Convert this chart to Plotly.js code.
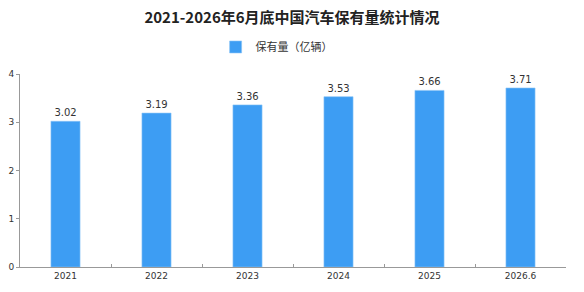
<!DOCTYPE html>
<html>
<head>
<meta charset="utf-8">
<script src="https://cdn.plot.ly/plotly-3.0.1.min.js"></script>
<style>
  html, body { margin: 0; padding: 0; background: #fff; }
  #chart { width: 584px; height: 292px; }
</style>
</head>
<body>
<div id="chart"></div>
<script>
// 中国汽车保有量（亿辆）
const years = ["2021", "2022", "2023", "2024", "2025", "2026.6"];
const stock = [3.02, 3.19, 3.36, 3.53, 3.66, 3.71];
const seriesName = "保有量（亿辆）";
const yTicks = [0, 1, 2, 3, 4];

const trace = {
  type: "bar",
  name: seriesName,
  x: years,
  y: stock,
  marker: { color: "#3d9df3", line: { color: "#8cc4f7", width: 0.6 } },
  text: stock.map(v => v.toFixed(2)),
  textposition: "outside",
  cliponaxis: false,
  textfont: { family: "DejaVu Sans, sans-serif", size: 10, color: "#333" },
  hoverinfo: "x+y"
};

const layout = {
  width: 584,
  height: 292,
  margin: { l: 20, r: 18, t: 74, b: 25 },
  paper_bgcolor: "#fff",
  plot_bgcolor: "#fff",
  title: {
    text: "<b>2021-2026年6月底中国汽车保有量统计情况</b>",
    font: { family: "Noto Sans CJK SC, sans-serif", size: 15, color: "#222" },
    x: 0.5, xanchor: "center", y: 0.94, yanchor: "middle"
  },
  showlegend: true,
  legend: {
    orientation: "h",
    x: 0.47, xanchor: "center",
    y: 1.14, yanchor: "middle",
    font: { family: "Noto Sans CJK SC, sans-serif", size: 11, color: "#333" },
    itemwidth: 30
  },
  bargap: 0.68,
  xaxis: {
    type: "category",
    tickson: "boundaries",
    ticks: "inside",
    ticklen: 3,
    tickcolor: "#999",
    showline: true,
    linecolor: "#999",
    linewidth: 1,
    showgrid: false,
    tickfont: { family: "DejaVu Sans, sans-serif", size: 9, color: "#333" }
  },
  yaxis: {
    range: [0, 4],
    tickvals: yTicks,
    ticks: "outside",
    ticklen: 3,
    tickcolor: "#999",
    showline: true,
    linecolor: "#999",
    linewidth: 1,
    showgrid: false,
    zeroline: false,
    tickfont: { family: "DejaVu Sans, sans-serif", size: 9, color: "#333" }
  }
};

Plotly.newPlot("chart", [trace], layout, { displayModeBar: false, staticPlot: true });
</script>
</body>
</html>
